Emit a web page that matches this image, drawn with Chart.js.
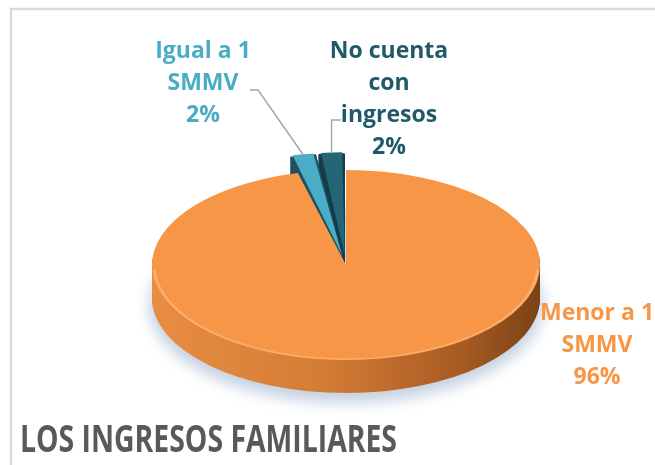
<!DOCTYPE html>
<html>
<head>
<meta charset="utf-8">
<script src="https://cdn.jsdelivr.net/npm/chart.js@4.4.0/dist/chart.umd.min.js"></script>
<style>
    html, body { margin: 0; padding: 0; background: #fff; }
    canvas { display: block; }
</style>
</head>
<body>
<canvas id="myChart" width="655" height="465"></canvas>
<script>
// data
const categories = ['Menor a 1 SMMV', 'Igual a 1 SMMV', 'No cuenta con ingresos'];
const percentages = [96, 2, 2];
const labelNames = [['Menor a 1', 'SMMV'], ['Igual a 1', 'SMMV'], ['No cuenta', 'con', 'ingresos']];
const chartTitle = 'LOS INGRESOS FAMILIARES';

// styles
const topColors = ['#f79646', '#4bacc6', '#256676'];
const sideColors = [null, '#1e5262', '#163e49'];
const labelColors = ['#f79646', '#4bacc6', '#215968'];
const sliceOffsets = [0, 77, 77];
// label anchor relative to pie centre (first baseline)
const labelAnchors = [[251, 55], [-143, -207], [43, -207]];
const leaders = [null, {start: [47, 32], elbowDx: 8}, {start: [-48, 62], elbowDx: null}];

const TILT = 0.49;
const DEPTH = 33;

function tilt(ctx, cy, dy) {
    ctx.translate(0, cy + dy);
    ctx.scale(1, TILT);
    ctx.translate(0, -cy);
}

function sliceGeom(el) {
    const off = (el.options.offset || 0) / 4;
    const mid = (el.startAngle + el.endAngle) / 2;
    const fix = 1 - Math.sin(Math.min(Math.PI, el.circumference || 0));
    return {
        x: el.x + Math.cos(mid) * off,
        y: el.y + Math.sin(mid) * off,
        r: el.outerRadius + off * fix,
        mid: mid
    };
}

function slicePath(ctx, el) {
    const g = sliceGeom(el);
    ctx.beginPath();
    ctx.moveTo(g.x, g.y);
    ctx.arc(g.x, g.y, g.r, el.startAngle, el.endAngle);
    ctx.closePath();
}

const pie3d = {
    id: 'pie3d',
    beforeDraw(chart) {
        const ctx = chart.ctx;
        ctx.save();
        ctx.strokeStyle = '#d9d9d9';
        ctx.lineWidth = 2.5;
        ctx.beginPath();
        ctx.moveTo(11, 465);
        ctx.lineTo(11, 9);
        ctx.lineTo(655, 9);
        ctx.stroke();
        ctx.restore();
    },
    beforeDatasetsDraw(chart) {
        const ctx = chart.ctx;
        const arcs = chart.getDatasetMeta(0).data;
        const cx = arcs[0].x, cy = arcs[0].y, R = arcs[0].outerRadius;

        // soft shadow under the pie
        ctx.save();
        ctx.filter = 'blur(7px)';
        ctx.fillStyle = 'rgba(140,165,195,0.5)';
        ctx.beginPath();
        ctx.ellipse(cx, cy + DEPTH + 7, R + 3, R * TILT + 3, 0, 0, Math.PI * 2);
        ctx.fill();
        ctx.restore();

        // sides, back to front
        const order = arcs.map((el, i) => i)
            .sort((a, b) => Math.sin(sliceGeom(arcs[a]).mid) - Math.sin(sliceGeom(arcs[b]).mid));
        order.forEach((i) => {
            const el = arcs[i];
            let fill = sideColors[i];
            if (!fill) {
                fill = ctx.createLinearGradient(cx - R, 0, cx + R, 0);
                fill.addColorStop(0, '#e88d42');
                fill.addColorStop(0.45, '#d47b35');
                fill.addColorStop(0.8, '#a65b22');
                fill.addColorStop(1, '#7a4214');
            }
            for (let d = DEPTH; d >= 1; d--) {
                ctx.save();
                tilt(ctx, cy, d);
                slicePath(ctx, el);
                ctx.fillStyle = fill;
                ctx.fill();
                ctx.restore();
            }
        });

        ctx.save();
        tilt(ctx, cy, 0);
    },
    afterDatasetsDraw(chart) {
        const ctx = chart.ctx;
        const el = chart.getDatasetMeta(0).data[0];
        ctx.beginPath();
        ctx.arc(el.x, el.y, el.outerRadius - 2, 0.05, Math.PI - 0.05);
        ctx.strokeStyle = 'rgba(255,205,160,0.45)';
        ctx.lineWidth = 3;
        ctx.stroke();
        ctx.restore();
    },
    afterDraw(chart) {
        const ctx = chart.ctx;
        const arcs = chart.getDatasetMeta(0).data;
        const cx = arcs[0].x, cy = arcs[0].y;

        ctx.save();
        ctx.textAlign = 'center';
        ctx.textBaseline = 'alphabetic';
        ctx.font = 'bold 23px "Open Sans"';
        arcs.forEach((el, i) => {
            const ax = cx + labelAnchors[i][0];
            const ay = cy + labelAnchors[i][1];
            const lines = labelNames[i].concat([percentages[i] + '%']);
            ctx.fillStyle = labelColors[i];
            lines.forEach((t, j) => ctx.fillText(t, ax, ay + j * 32));

            const ld = leaders[i];
            if (ld) {
                const g = sliceGeom(el);
                const rx = g.x + Math.cos(g.mid) * g.r;
                const ry = cy + (g.y + Math.sin(g.mid) * g.r - cy) * TILT;
                const sx = ax + ld.start[0], sy = ay + ld.start[1];
                const ex = ld.elbowDx === null ? rx : sx + ld.elbowDx;
                ctx.beginPath();
                ctx.moveTo(sx, sy);
                ctx.lineTo(ex, sy);
                ctx.lineTo(rx, ry);
                ctx.strokeStyle = '#a6a6a6';
                ctx.lineWidth = 1.5;
                ctx.stroke();
            }
        });

        // title, narrowed to a Calibri-like width
        ctx.font = 'bold 38px "Open Sans"';
        ctx.textAlign = 'left';
        ctx.fillStyle = '#595959';
        const w = ctx.measureText(chartTitle).width;
        ctx.translate(20, 452);
        ctx.scale(377 / w, 1);
        ctx.fillText(chartTitle, 0, 0);
        ctx.restore();
    }
};

const ctx = document.getElementById('myChart').getContext('2d');
new Chart(ctx, {
    type: 'pie',
    data: {
        labels: categories,
        datasets: [{
            data: percentages,
            backgroundColor: topColors,
            borderWidth: 0,
            offset: sliceOffsets,
            clip: false
        }]
    },
    options: {
        responsive: false,
        animation: false,
        events: [],
        radius: 194,
        layout: { padding: { left: 37, top: 65 } },
        plugins: {
            legend: { display: false },
            tooltip: { enabled: false },
            title: { display: false }
        }
    },
    plugins: [pie3d]
});
</script>
</body>
</html>
